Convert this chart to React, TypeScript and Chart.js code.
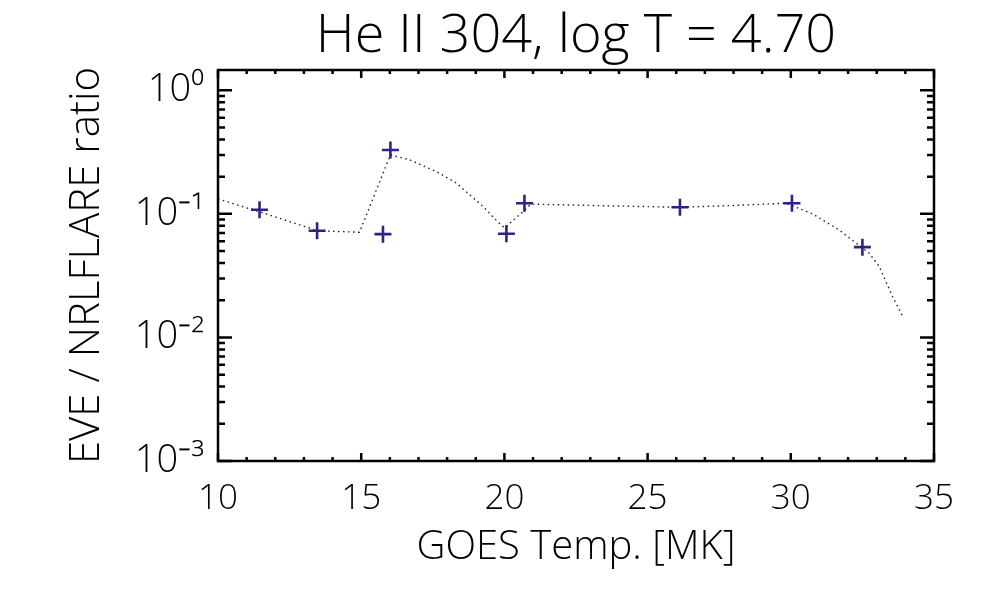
import { useEffect, useRef } from "react";
import { Chart, registerables } from "chart.js";

Chart.register(...registerables);

// model curve (dotted)
const modelTemp = [
  10, 11.45, 13.48, 14.94, 16.02, 16.69, 17.62, 18.32, 18.78, 19.25, 19.71,
  20.0, 20.52, 20.93, 23, 26.13, 28, 29.83, 30.76, 31.69, 32.74, 33.09, 33.55,
  33.93,
];
const modelRatio = [
  0.132, 0.104, 0.073, 0.071, 0.3, 0.274, 0.22, 0.178, 0.143, 0.115, 0.089,
  0.077, 0.098, 0.12, 0.117, 0.113, 0.117, 0.122, 0.1, 0.074, 0.048, 0.0375,
  0.0215, 0.0144,
];

// measured ratios (crosses)
const obsTemp = [11.45, 13.46, 15.76, 16.02, 20.07, 20.7, 26.13, 30.04, 32.5];
const obsRatio = [0.108, 0.073, 0.0685, 0.329, 0.069, 0.122, 0.113, 0.122, 0.0538];

const xTickValues = [10, 15, 20, 25, 30, 35];
const yTickValues = [0.001, 0.01, 0.1, 1];
const yTickLabels = ["10⁻³", "10⁻²", "10⁻¹", "10⁰"];

const FONT = "'Open Sans', 'DejaVu Sans', sans-serif";

// IDL style box with inward ticks on all four sides
const boxTicks = {
  id: "boxTicks",
  afterDatasetsDraw(chart: Chart) {
    const { ctx, chartArea } = chart;
    const { left, right, top, bottom } = chartArea;
    const xs = chart.scales.x;
    const ys = chart.scales.y;
    ctx.save();
    ctx.strokeStyle = "#000";
    ctx.lineWidth = 2.5;
    ctx.lineCap = "butt";
    ctx.strokeRect(left, top, right - left, bottom - top);
    ctx.beginPath();
    xs.ticks.forEach((t) => {
      const v = t.value;
      if (Math.abs(v - Math.round(v)) > 1e-6) return;
      const len = v % 5 === 0 ? 8 : 4;
      const px = xs.getPixelForValue(v);
      ctx.moveTo(px, bottom);
      ctx.lineTo(px, bottom - len);
      ctx.moveTo(px, top);
      ctx.lineTo(px, top + len);
    });
    ys.ticks.forEach((t) => {
      const v = t.value;
      const p = Math.floor(Math.log10(v) + 1e-9);
      const m = v / Math.pow(10, p);
      if (Math.abs(m - Math.round(m)) > 1e-6) return;
      const len = Math.round(m) === 1 ? 14 : 7;
      const py = ys.getPixelForValue(v);
      ctx.moveTo(left, py);
      ctx.lineTo(left + len, py);
      ctx.moveTo(right, py);
      ctx.lineTo(right - len, py);
    });
    ctx.stroke();
    ctx.restore();
  },
};

function RatioChart() {
  const chartRef = useRef<HTMLCanvasElement>(null);
  const chartInstance = useRef<Chart | null>(null);

  useEffect(() => {
    if (!chartRef.current) return;
    if (chartInstance.current) chartInstance.current.destroy();
    const ctx = chartRef.current.getContext("2d");
    if (!ctx) return;

    chartInstance.current = new Chart(ctx, {
      type: "scatter",
      data: {
        datasets: [
          {
            type: "line",
            label: "model",
            data: modelTemp.map((t, i) => ({ x: t, y: modelRatio[i] })),
            borderColor: "#222",
            borderWidth: 1.4,
            borderDash: [1.5, 3.5],
            pointRadius: 0,
            fill: false,
            tension: 0,
          },
          {
            label: "EVE",
            data: obsTemp.map((t, i) => ({ x: t, y: obsRatio[i] })),
            pointStyle: "cross",
            pointRadius: 8.5,
            pointBorderWidth: 2.6,
            borderColor: "#2b2388",
            backgroundColor: "#2b2388",
            showLine: false,
          },
        ],
      },
      options: {
        animation: false,
        responsive: true,
        maintainAspectRatio: false,
        layout: { padding: { left: 0, right: 66, top: 0, bottom: 0 } },
        plugins: {
          legend: { display: false },
          tooltip: { enabled: false },
          title: {
            display: true,
            text: "He II 304, log T = 4.70",
            fullSize: false,
            color: "#000",
            font: { family: FONT, size: 54, weight: "300", lineHeight: 1 },
            padding: { top: 10, bottom: 6 },
          },
        },
        scales: {
          x: {
            type: "linear",
            min: 10,
            max: 35,
            afterFit: (scale) => {
              scale.height = 139;
            },
            grid: { display: false, drawTicks: false },
            border: { display: false },
            ticks: {
              stepSize: 1,
              autoSkip: false,
              maxTicksLimit: 100,
              maxRotation: 0,
              padding: 21,
              color: "#000",
              font: { family: FONT, size: 35, weight: "300", lineHeight: 1 },
              callback: (value) =>
                xTickValues.includes(Number(value)) ? String(value) : "",
            },
            title: {
              display: true,
              text: "GOES Temp. [MK]",
              color: "#000",
              font: { family: FONT, size: 40, weight: "300", lineHeight: 1 },
              padding: { top: 0, bottom: 32 },
            },
          },
          y: {
            type: "logarithmic",
            min: 0.001,
            max: 1.46,
            afterFit: (scale) => {
              scale.width = 218;
            },
            grid: { display: false, drawTicks: false },
            border: { display: false },
            ticks: {
              autoSkip: false,
              padding: 14,
              color: "#000",
              font: { family: FONT, size: 38, weight: "300", lineHeight: 1 },
              callback: (value) => {
                const i = yTickValues.findIndex(
                  (v) => Math.abs(v - Number(value)) < v * 1e-6,
                );
                return i >= 0 ? yTickLabels[i] : "";
              },
            },
            title: {
              display: true,
              text: "EVE / NRLFLARE ratio",
              color: "#000",
              font: { family: FONT, size: 42, weight: "300", lineHeight: 1 },
              padding: { top: 66, bottom: 0 },
            },
          },
        },
      },
      plugins: [boxTicks],
    });

    return () => {
      if (chartInstance.current) {
        chartInstance.current.destroy();
        chartInstance.current = null;
      }
    };
  }, []);

  return <canvas ref={chartRef} />;
}

export default function App() {
  return (
    <div
      style={{
        position: "fixed",
        left: 0,
        top: 0,
        width: 1000,
        height: 600,
        background: "#fff",
      }}
    >
      <RatioChart />
    </div>
  );
}
